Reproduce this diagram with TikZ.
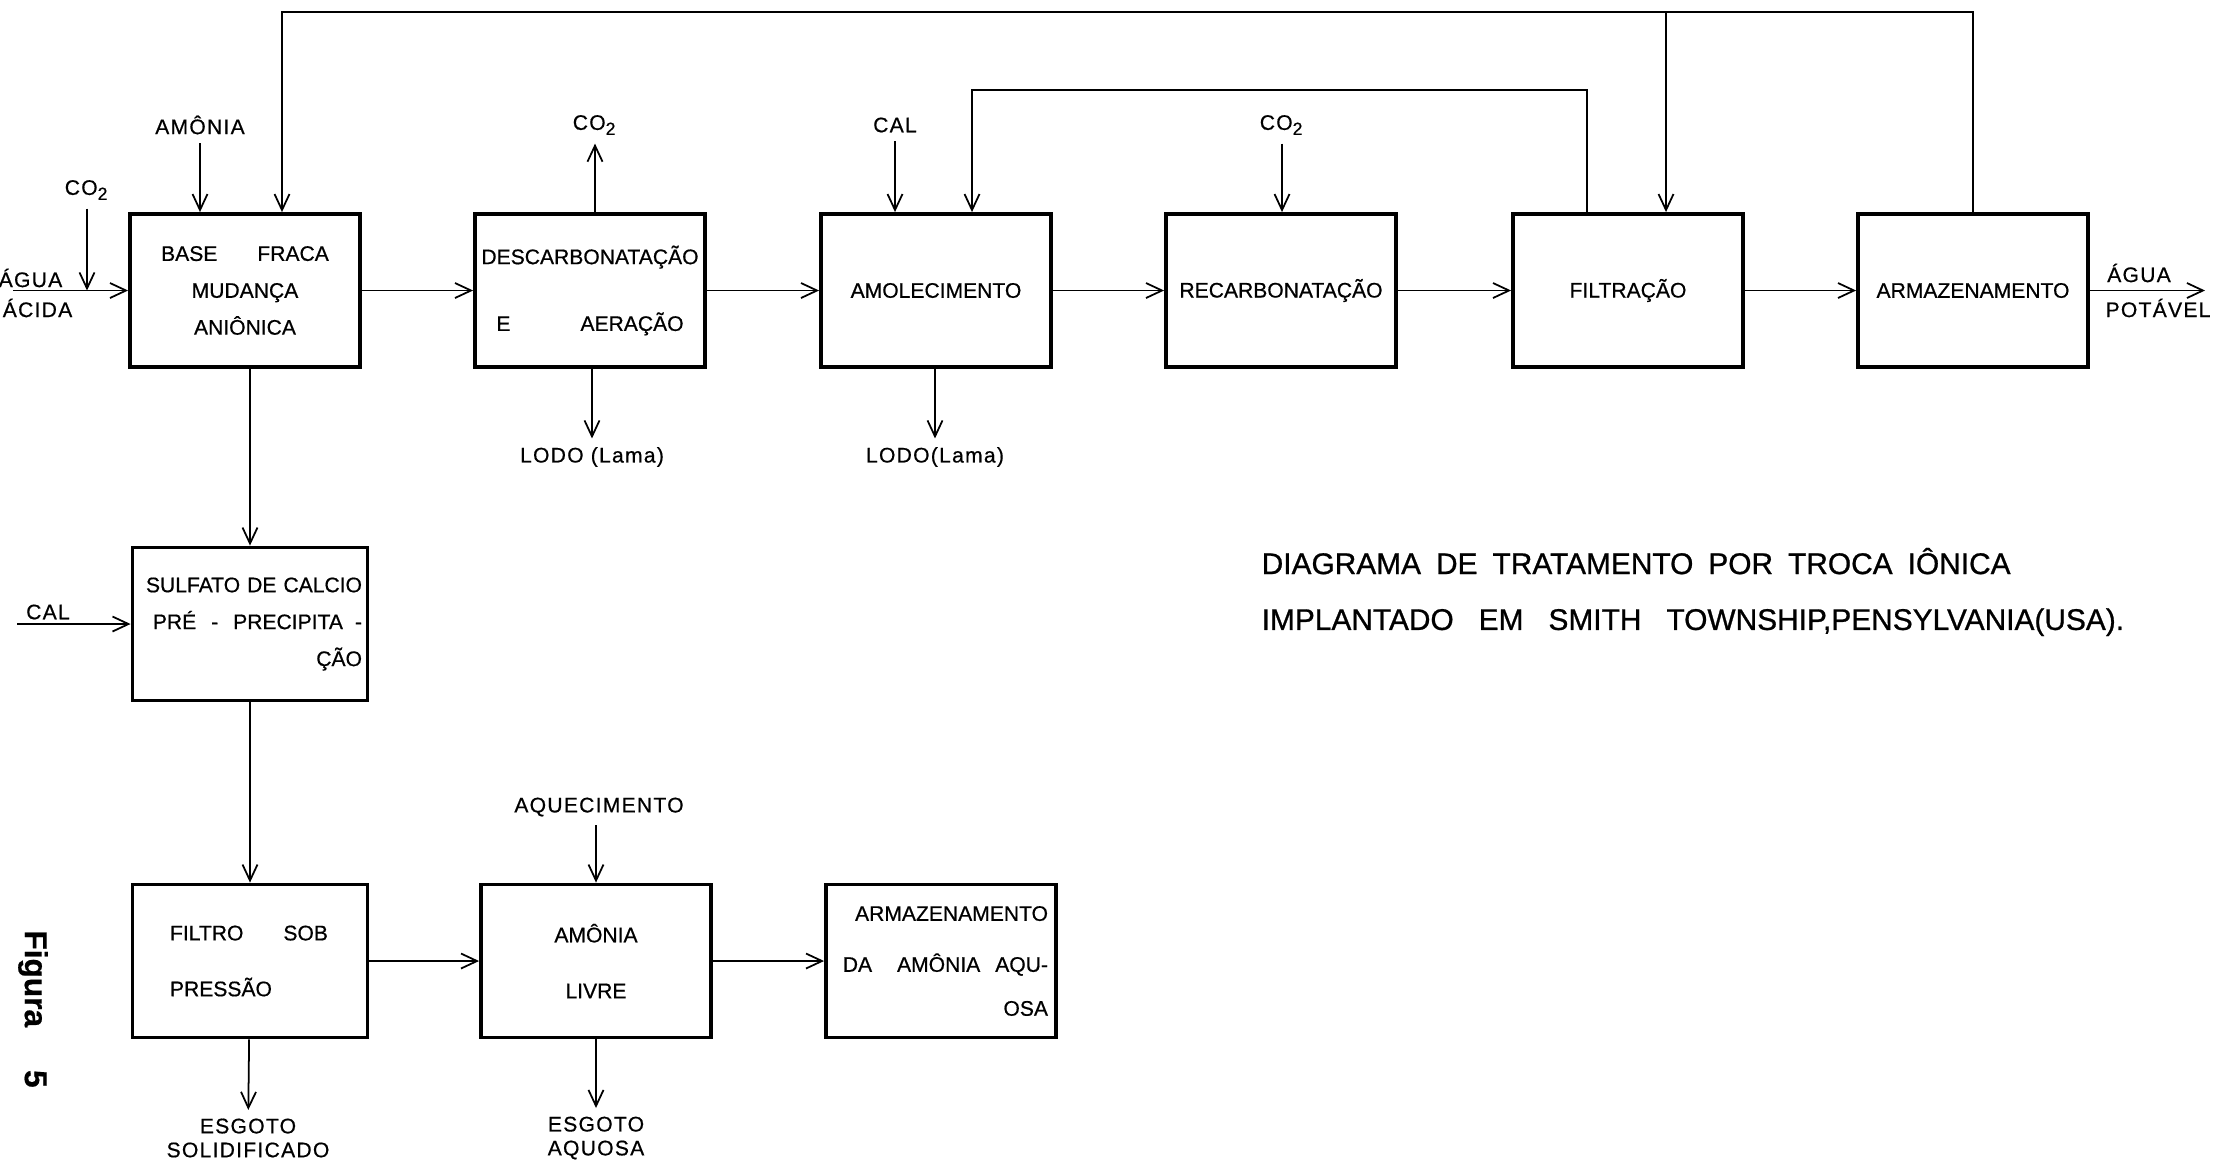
\documentclass[tikz,border=0pt]{standalone}
\usepackage{fontspec}
\setmainfont{Liberation Sans}[FakeBold=0.6]
\newfontfamily\tagfont{Liberation Sans}[FakeBold=0.6, LetterSpace=6]
\newfontfamily\titlefont{Liberation Sans}[FakeBold=0.8]
\usetikzlibrary{arrows.meta, positioning}

\begin{document}
\begin{tikzpicture}[x=0.1mm, y=-0.1mm,
  box/.style={draw, line width=1.1pt, minimum width=23mm, minimum height=15.3mm,
    inner sep=0.6mm, font=\fontsize{6}{10.5}\selectfont},
  flow/.style={-{Straight Barb[length=1.6mm, width=1.5mm]}, line width=0.5pt},
  tag/.style={inner sep=0.8mm, font=\tagfont\fontsize{6}{6.8}\selectfont, align=center}]
\def\ytop{290.5}
\def\ybot{961}

\useasboundingbox (0,0) rectangle (2221,1164);
\clip (0,0) rectangle (2221,1164);

% linha de tratamento
\node[box, align=center] (base) at (245,\ytop) {BASE\hspace{4mm}FRACA\\MUDANÇA\\ANIÔNICA};
\node[box, align=center] (descarb) at (590,\ytop) {DESCARBONATAÇÃO\\[8.5pt]E\hspace{7mm}AERAÇÃO};
\node[box] (amol) at (936,\ytop) {AMOLECIMENTO};
\node[box] (recarb) at (1281,\ytop) {RECARBONATAÇÃO};
\node[box] (filtr) at (1628,\ytop) {FILTRAÇÃO};
\node[box] (armaz) at (1973,\ytop) {ARMAZENAMENTO};

% recuperacao da amonia
\node[box, minimum width=23.5mm, inner sep=0.4mm, align=right, text width=22.4mm] (sulfato) at (250,624)
  {SULFATO DE CALCIO\\PRÉ\hspace{1.5mm}-\hspace{1.5mm}PRECIPITA\hspace{1.2mm}-\\ÇÃO};
\node[box, minimum width=23.5mm, align=left, text width=16mm] (filtro) at (250,\ybot)
  {FILTRO\hspace{4mm}SOB\\[5.4pt]PRESSÃO};
\node[box, align=center] (livre) at (596,\ybot) {AMÔNIA\\[5.4pt]LIVRE};
\node[box, align=right, text width=21.4mm] (armazam) at (941,\ybot)
  {ARMAZENAMENTO\\[4pt]DA\hspace{2.5mm}AMÔNIA\hspace{1.5mm}AQU-\\[2pt]OSA};

% entradas e saidas
\node[tag] (amonia) at (200,125) {AMÔNIA};
\node[tag] (co2a) at (87,190) {CO\textsubscript{2}};
\node[tag, anchor=east] (agua) at (71,278) {ÁGUA};
\node[tag, anchor=east] (acida) at (81,308) {ÁCIDA};
\node[tag] (co2b) at (595,125) {CO\textsubscript{2}};
\node[tag] (lodoa) at (592,457) {LODO (Lama)};
\node[tag] (cal) at (895,125) {CAL};
\node[tag] (lodob) at (935,457) {LODO(Lama)};
\node[tag] (co2c) at (1282,125) {CO\textsubscript{2}};
\node[tag] (aguap) at (2139,273) {ÁGUA};
\node[tag] (potavel) at (2158,308) {POTÁVEL};
\node[tag] (calb) at (48,612) {CAL};
\node[tag] (aquec) at (599,807) {AQUECIMENTO};
\node[tag] (esgotoa) at (248,1138) {ESGOTO\\SOLIDIFICADO};
\node[tag] (esgotob) at (596,1138) {ESGOTO\\AQUOSA};

\node[anchor=west, align=left, inner sep=0, font=\titlefont\fontsize{8.5}{15.9}\selectfont] (titulo) at (1261,592)
  {DIAGRAMA\hspace{1.5mm}DE\hspace{1.5mm}TRATAMENTO\hspace{1.5mm}POR\hspace{1.5mm}TROCA\hspace{1.5mm}IÔNICA\\
   IMPLANTADO\hspace{2.5mm}EM\hspace{2.5mm}SMITH\hspace{2.5mm}TOWNSHIP,PENSYLVANIA(USA).};
\node[rotate=-90, inner sep=0, font=\bfseries\fontsize{9}{10}\selectfont] (figura) at (33,1009) {Figura\hspace{4.3mm}5};

\coordinate (entrada) at (13,\ytop);
\coordinate (saida) at (2205,\ytop);
\coordinate (retA) at (282,12);
\coordinate (derivA) at (1666,12);
\coordinate (retC) at (1587,90);
\coordinate (retD) at (972,90);
\coordinate (calin) at (17,624);

\foreach \a/\b in {base/descarb, descarb/amol, amol/recarb, recarb/filtr, filtr/armaz}
  \draw[flow] (\a) -- (\b);
\draw[flow] (entrada) -- (base);
\draw[flow] (armaz) -- (saida);
\draw[flow] (co2a) -- (co2a |- entrada);
\draw[flow] (amonia) -- (amonia |- base.north);
\draw[flow] (co2b |- descarb.north) -- (co2b);
\draw[flow] (lodoa |- descarb.south) -- (lodoa);
\draw[flow] (cal) -- (cal |- amol.north);
\draw[flow] (lodob |- amol.south) -- (lodob);
\draw[flow] (co2c) -- (co2c |- recarb.north);

% retornos
\draw[flow] (armaz.north) |- (retA) -- (retA |- base.north);
\draw[flow] (derivA) -- (derivA |- filtr.north);
\draw[flow] (retC |- filtr.north) -- (retC) -- (retD) -- (retD |- amol.north);

\draw[flow] (base.south -| sulfato) -- (sulfato);
\draw[flow] (calin) -- (sulfato);
\draw[flow] (sulfato) -- (filtro);
\draw[flow] (filtro) -- (livre);
\draw[flow] (livre) -- (armazam);
\draw[flow] (aquec.south -| livre) -- (livre);
\draw[flow] (filtro) -- (esgotoa);
\draw[flow] (livre) -- (esgotob);
\end{tikzpicture}
\end{document}
